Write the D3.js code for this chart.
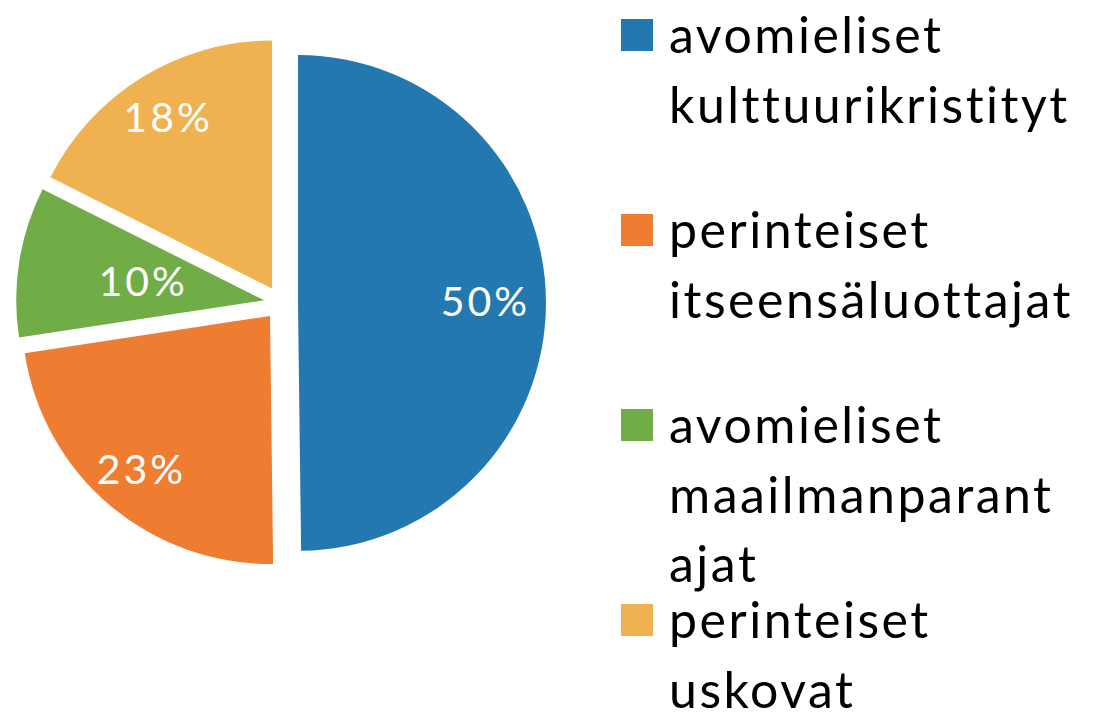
<!DOCTYPE html>
<html>
<head>
<meta charset="utf-8">
<script src="https://cdn.jsdelivr.net/npm/d3@7"></script>
<style>
  html, body { margin: 0; padding: 0; background: #fff; }
  svg { display: block; }
  text { font-family: "Lato", "Noto Sans", sans-serif; }
</style>
</head>
<body>
<svg id="chart" width="1097" height="714"></svg>
<script>
// ---- data ----
const categories = [
  "avomieliset kulttuurikristityt",
  "perinteiset itseensäluottajat",
  "avomieliset maailmanparantajat",
  "perinteiset uskovat"
];
const legendLines = [
  ["avomieliset", "kulttuurikristityt"],
  ["perinteiset", "itseensäluottajat"],
  ["avomieliset", "maailmanparant", "ajat"],
  ["perinteiset", "uskovat"]
];
const values = [49.8, 22.8, 9.8, 17.6];
const colors = ["#2478b0", "#ee7d32", "#70ad47", "#f0b250"];

// ---- layout ----
const W = 1097, H = 714;
const cx = 281, cy = 303, R = 248, explode = 17;

const svg = d3.select("#chart");
const data = categories.map((c, i) => ({ name: c, value: values[i], color: colors[i], lines: legendLines[i] }));
const total = d3.sum(values);

const pie = d3.pie().sort(null).value(d => d.value).startAngle(0).endAngle(2 * Math.PI);
const arc = d3.arc().innerRadius(0).outerRadius(R);
const arcs = pie(data);

const g = svg.append("g").attr("transform", `translate(${cx},${cy})`);

const slice = g.selectAll("g.slice").data(arcs).join("g")
  .attr("class", "slice")
  .attr("transform", d => {
    const a = (d.startAngle + d.endAngle) / 2;
    return `translate(${Math.sin(a) * explode},${-Math.cos(a) * explode})`;
  });

slice.append("path")
  .attr("d", arc)
  .attr("fill", d => d.data.color);

const fmt = v => Math.round(v / total * 100) + "%";
const labelSize = 41, labelLs = 3;
slice.append("text")
  .attr("fill", "#ffffff")
  .attr("font-size", labelSize)
  .attr("letter-spacing", labelLs)
  .attr("text-anchor", "middle")
  .attr("dy", "0.36em")
  .text(d => fmt(d.data.value))
  .each(function(d) {
    const a = (d.startAngle + d.endAngle) / 2;
    const frac = (d.endAngle - d.startAngle) / (2 * Math.PI);
    let rr = frac < 0.15 ? 0.5 * R : 0.81 * R;
    const hw = this.getComputedTextLength() / 2;
    // keep label horizontally inside the disk
    const maxX = 0.93 * R - hw;
    if (Math.abs(Math.sin(a) * rr) > maxX) rr = maxX / Math.abs(Math.sin(a));
    d3.select(this)
      .attr("x", Math.sin(a) * rr + labelLs / 2)
      .attr("y", -Math.cos(a) * rr);
  });

// ---- legend ----
const legendX = 621, legendTop = 53, entryStep = 195, lineStep = 69.5, sq = 32;
const leg = svg.append("g");
const item = leg.selectAll("g.item").data(data).join("g")
  .attr("class", "item")
  .attr("transform", (d, i) => `translate(${legendX},${legendTop + i * entryStep})`);

item.append("rect")
  .attr("x", 0).attr("y", -34)
  .attr("width", sq).attr("height", sq)
  .attr("fill", d => d.color);

item.append("text")
  .attr("x", 48)
  .attr("font-size", 50)
  .attr("letter-spacing", 2.5)
  .attr("fill", "#000")
  .selectAll("tspan").data(d => d.lines).join("tspan")
  .attr("x", 48)
  .attr("y", (d, i) => i * lineStep)
  .text(d => d);
</script>
</body>
</html>
